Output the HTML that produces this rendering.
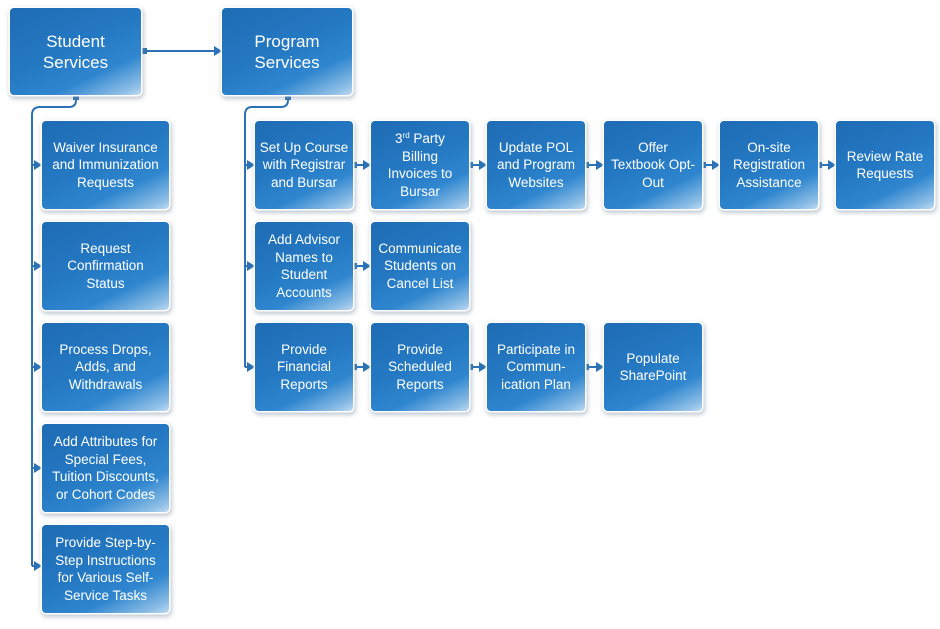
<!DOCTYPE html>
<html><head><meta charset="utf-8"><style>
body{margin:0;width:940px;height:629px;background:#fff;position:relative;overflow:hidden;font-family:"Liberation Sans",sans-serif}
.b{position:absolute;box-sizing:border-box;border-radius:4px;color:#fff;display:flex;align-items:center;justify-content:center;text-align:center;
background:linear-gradient(155deg,#1e6cb4 0%,#2478c2 45%,#2f86cf 72%,#8fbfe6 93%,#c0dbf2 100%);
box-shadow:0 0 0 1.5px #fff,1px 2px 4px 2px rgba(120,140,160,.45);font-size:13.5px;line-height:17.5px;padding:0 4px}
.b span{display:block}
.t{font-size:17px;line-height:21px}
svg{position:absolute;left:0;top:0}
sup{font-size:8px;line-height:0;vertical-align:5px}
</style></head><body>
<svg width="940" height="629">
<defs><marker id="a" markerWidth="10" markerHeight="10" refX="9" refY="5" orient="auto" markerUnits="userSpaceOnUse"><path d="M1,0L9,5L1,10z" fill="#2a72b5"/></marker></defs>
<g stroke="#2a72b5" stroke-width="2" fill="none">
<path d="M76,95V100Q76,107 69,107H40Q32,107 32,115V566"/>
<path d="M288,95V100Q288,107 281,107H252Q245,107 245,115V367"/>
<path d="M32,165H42" marker-end="url(#a)"/><path d="M32,266H42" marker-end="url(#a)"/><path d="M32,367H42" marker-end="url(#a)"/><path d="M32,468H42" marker-end="url(#a)"/><path d="M32,566H42" marker-end="url(#a)"/>
<path d="M245,165H255" marker-end="url(#a)"/><path d="M245,266H255" marker-end="url(#a)"/><path d="M245,367H255" marker-end="url(#a)"/>
<path d="M141,51H222" marker-end="url(#a)"/>
<path d="M353,165H371" marker-end="url(#a)"/><path d="M469,165H487" marker-end="url(#a)"/><path d="M585,165H604" marker-end="url(#a)"/><path d="M702,165H720" marker-end="url(#a)"/><path d="M818,165H836" marker-end="url(#a)"/>
<path d="M353,266H371" marker-end="url(#a)"/>
<path d="M353,367H371" marker-end="url(#a)"/><path d="M469,367H487" marker-end="url(#a)"/><path d="M585,367H604" marker-end="url(#a)"/>
</g>
<g fill="#2a72b5"><rect x="141" y="48" width="6" height="6"/><rect x="73" y="95" width="6" height="5"/><rect x="285" y="95" width="6" height="5"/>
<rect x="352" y="162" width="5" height="6"/><rect x="468" y="162" width="5" height="6"/><rect x="584" y="162" width="5" height="6"/><rect x="701" y="162" width="5" height="6"/><rect x="817" y="162" width="5" height="6"/>
<rect x="352" y="263" width="5" height="6"/><rect x="352" y="364" width="5" height="6"/><rect x="468" y="364" width="5" height="6"/><rect x="584" y="364" width="5" height="6"/></g>
</svg>
<div class="b t" style="left:10px;top:8px;width:131px;height:87px"><span>Student<br>Services</span></div>
<div class="b t" style="left:222px;top:8px;width:130px;height:87px"><span>Program<br>Services</span></div>
<div class="b" style="left:42px;top:121px;width:127px;height:88px"><span>Waiver Insurance and Immunization Requests</span></div>
<div class="b" style="left:42px;top:222px;width:127px;height:88px"><span>Request<br>Confirmation<br>Status</span></div>
<div class="b" style="left:42px;top:323px;width:127px;height:88px"><span>Process Drops,<br>Adds, and<br>Withdrawals</span></div>
<div class="b" style="left:42px;top:424px;width:127px;height:88px"><span>Add Attributes for Special Fees, Tuition Discounts, or Cohort Codes</span></div>
<div class="b" style="left:42px;top:525px;width:127px;height:88px"><span>Provide Step-by-Step Instructions for Various Self-Service Tasks</span></div>
<div class="b" style="left:255px;top:121px;width:98px;height:88px"><span>Set Up Course with Registrar and Bursar</span></div>
<div class="b" style="left:371px;top:121px;width:98px;height:88px"><span>3<sup>rd</sup> Party<br>Billing<br>Invoices to<br>Bursar</span></div>
<div class="b" style="left:487px;top:121px;width:98px;height:88px"><span>Update POL and Program Websites</span></div>
<div class="b" style="left:604px;top:121px;width:98px;height:88px"><span>Offer<br>Textbook Opt-<br>Out</span></div>
<div class="b" style="left:720px;top:121px;width:98px;height:88px"><span>On-site<br>Registration<br>Assistance</span></div>
<div class="b" style="left:836px;top:121px;width:98px;height:88px"><span>Review Rate Requests</span></div>
<div class="b" style="left:255px;top:222px;width:98px;height:88px"><span>Add Advisor<br>Names to<br>Student<br>Accounts</span></div>
<div class="b" style="left:371px;top:222px;width:98px;height:88px"><span>Communicate<br>Students on<br>Cancel List</span></div>
<div class="b" style="left:255px;top:323px;width:98px;height:88px"><span>Provide<br>Financial<br>Reports</span></div>
<div class="b" style="left:371px;top:323px;width:98px;height:88px"><span>Provide<br>Scheduled<br>Reports</span></div>
<div class="b" style="left:487px;top:323px;width:98px;height:88px"><span>Participate in<br>Commun-<br>ication Plan</span></div>
<div class="b" style="left:604px;top:323px;width:98px;height:88px"><span>Populate<br>SharePoint</span></div>
</body></html>
